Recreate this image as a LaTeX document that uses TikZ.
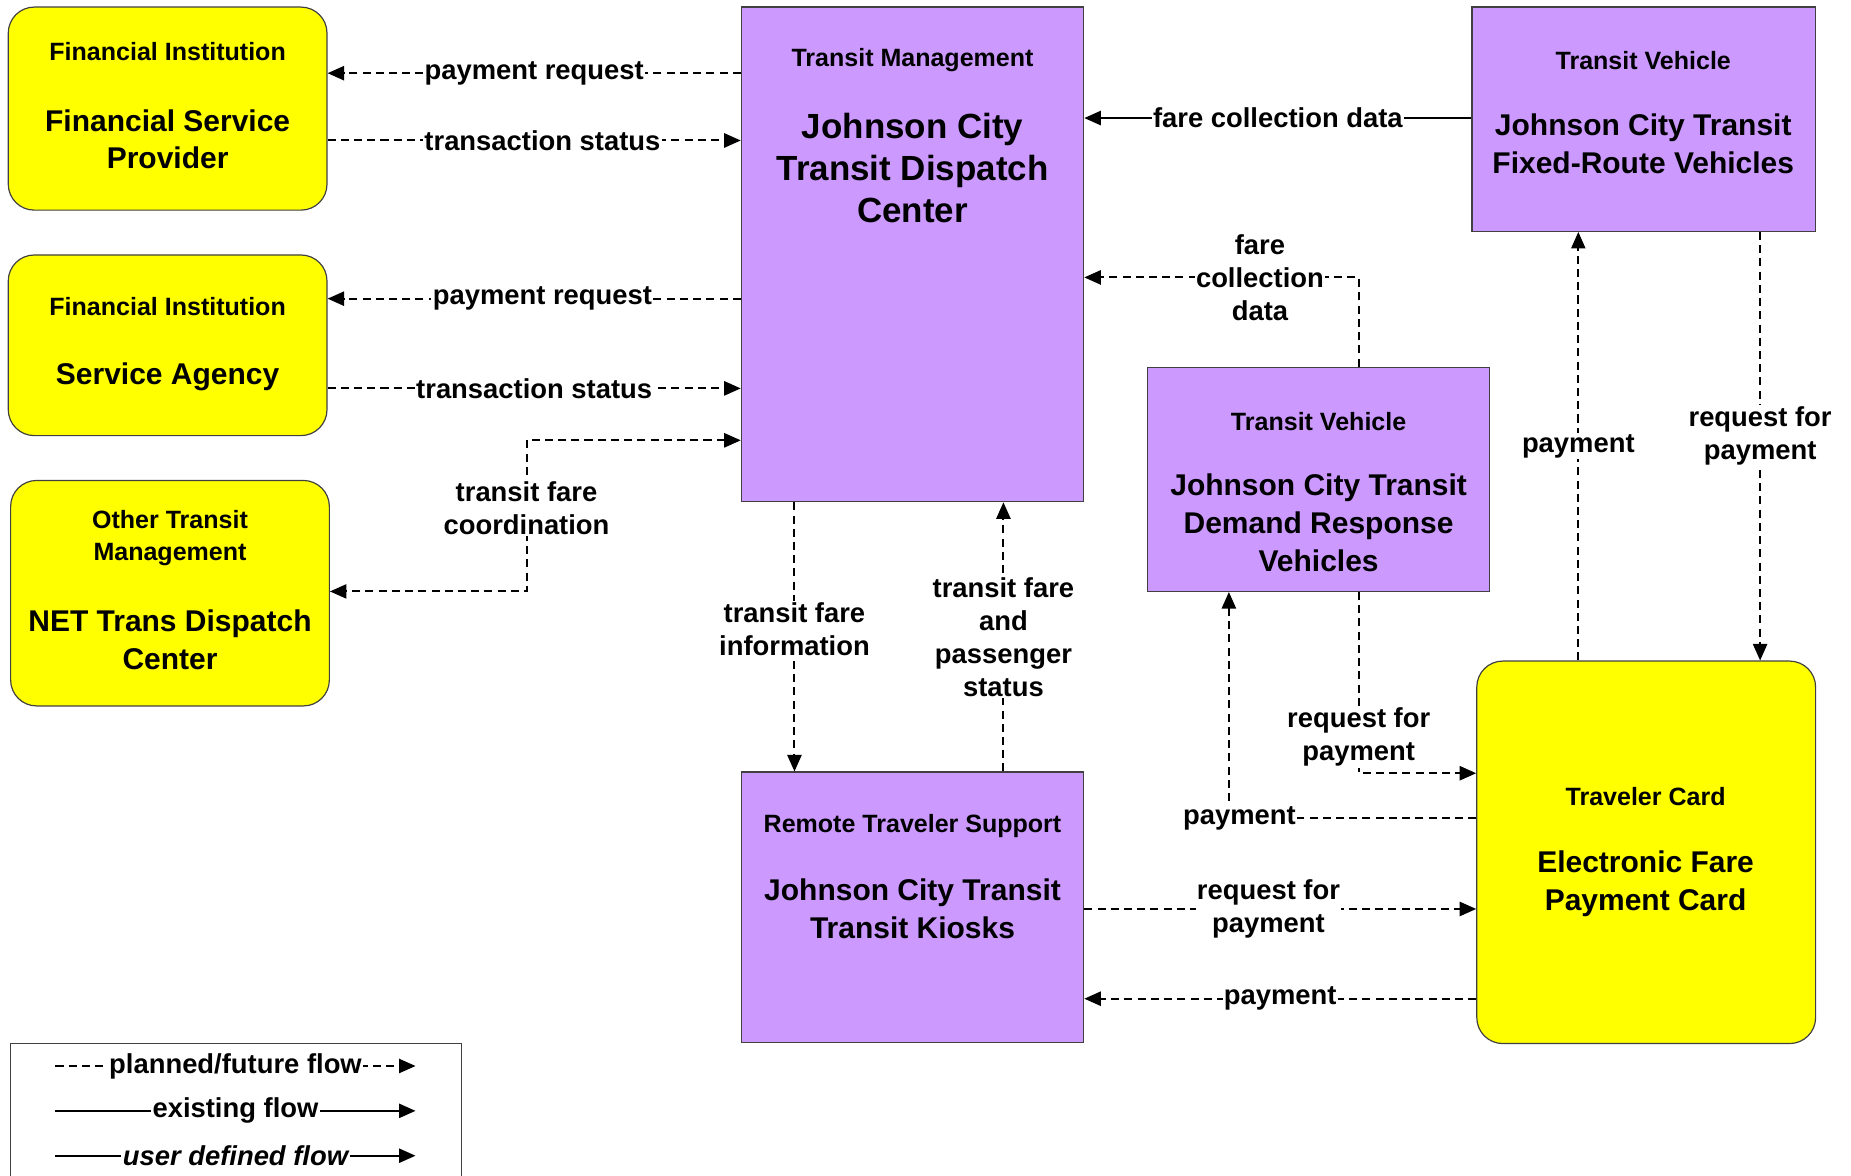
\documentclass[tikz,border=0pt]{standalone}
\usepackage{fontspec}
\setmainfont{Liberation Sans}
\usetikzlibrary{arrows.meta,positioning,calc}
\definecolor{termyellow}{HTML}{FFFF00}
\definecolor{sysviolet}{HTML}{CC99FF}
\definecolor{edgegray}{HTML}{404040}
\newcommand{\hdrfont}{\fontsize{10.6}{13.5}\selectfont\bfseries}
\newcommand{\namefont}{\fontsize{12.7}{16}\selectfont\bfseries}
\newcommand{\bignamefont}{\fontsize{14.8}{17.75}\selectfont\bfseries}
\newcommand{\flowfont}{\fontsize{11.6}{14}\selectfont\bfseries}

\tikzset{
  flowtip/.tip={Triangle[length=7pt,width=6pt]},
  termbox/.style={draw=edgegray, line width=0.5pt, fill=termyellow, rounded corners=11pt},
  sysbox/.style={draw=edgegray, line width=0.5pt, fill=sysviolet},
  hdr/.style={font=\hdrfont, align=center, inner sep=0pt},
  sysname/.style={font=\namefont, align=center, inner sep=0pt},
  flowlbl/.style={font=\flowfont, align=center, fill=white, inner sep=0.6pt},
  planned/.style={line width=0.85pt, dash pattern=on 3.4pt off 2.2pt, -flowtip},
  existing/.style={line width=0.85pt, -flowtip},
}

\begin{document}
\begin{tikzpicture}[x=0.5pt, y=-0.5pt]
\useasboundingbox (0,0) rectangle (1568,996);

% terminators
\node[termbox, minimum width=135pt, minimum height=86pt] (fsp) at (142,92) {};
\node[hdr] (fsp-cls) at (142,44) {Financial Institution};
\node[sysname] (fsp-name) at (142,118) {Financial Service\\Provider};

\node[termbox, minimum width=135pt, minimum height=76.5pt] (sa) at (142,292.5) {};
\node[hdr] (sa-cls) at (142,260) {Financial Institution};
\node[sysname] (sa-name) at (142,319) {Service Agency};

\node[termbox, minimum width=135pt, minimum height=95.5pt] (net) at (144,502.5) {};
\node[hdr] (net-cls) at (144,455.5) {Other Transit\\Management};
\node[sysname] (net-name) at (144,542) {NET Trans Dispatch\\Center};

\node[termbox, minimum width=143.5pt, minimum height=162pt] (card) at (1394.5,722) {};
\node[hdr] (card-cls) at (1394,675) {Traveler Card};
\node[sysname] (card-name) at (1394,748.5) {Electronic Fare\\Payment Card};

% subsystems
\node[sysbox, minimum width=145pt, minimum height=209.5pt] (dc) at (773,215.5) {};
\node[hdr] (dc-cls) at (773,51) {Transit Management};
\node[sysname, font=\bignamefont] (dc-name) at (773,142.5) {Johnson City\\Transit Dispatch\\Center};

\node[sysbox, minimum width=145.5pt, minimum height=95pt] (frv) at (1392.5,101) {};
\node[hdr] (frv-cls) at (1392,51) {Transit Vehicle};
\node[sysname] (frv-name) at (1392,121.5) {Johnson City Transit\\Fixed-Route Vehicles};

\node[sysbox, minimum width=145pt, minimum height=95pt] (drv) at (1117,406) {};
\node[hdr] (drv-cls) at (1117,357) {Transit Vehicle};
\node[sysname] (drv-name) at (1117,443) {Johnson City Transit\\Demand Response\\Vehicles};

\node[sysbox, minimum width=145pt, minimum height=114.5pt] (kiosk) at (773,768.5) {};
\node[hdr] (kiosk-cls) at (773,700) {Remote Traveler Support};
\node[sysname] (kiosk-name) at (773,770) {Johnson City Transit\\Transit Kiosks};

% flows
\draw[planned] (dc.west |- 0,62) -- node[flowlbl]{payment request} (fsp.east |- 0,62);
\draw[planned] (fsp.east |- 0,119) -- node[flowlbl, pos=0.52]{transaction status} (dc.west |- 0,119);
\draw[planned] (dc.west |- 0,253) -- node[flowlbl, pos=0.48]{payment request} (sa.east |- 0,253);
\draw[planned] (sa.east |- 0,329) -- node[flowlbl]{transaction status} (dc.west |- 0,329);
\draw[planned, flowtip-flowtip] (dc.west |- 0,373) -- (446,373)
  -- node[flowlbl, pos=0.45]{transit fare\\coordination} (446,501) -- (net.east |- 0,501);

\draw[existing] (frv.west |- 0,100) -- node[flowlbl]{fare collection data} (dc.east |- 0,100);
\draw[planned] (drv.north -| 1151,0) |- node[flowlbl, pos=0.68]{fare\\collection\\data} (dc.east |- 0,235);

\draw[planned] (dc.south -| 673,0) -- node[flowlbl, pos=0.47]{transit fare\\information} (kiosk.north -| 673,0);
\draw[planned] (kiosk.north -| 850,0) -- node[flowlbl]{transit fare\\and\\passenger\\status} (dc.south -| 850,0);

\draw[planned] (card.north -| 1337,0) -- node[flowlbl]{payment} (frv.south -| 1337,0);
\draw[planned] (frv.south -| 1491,0) -- node[flowlbl, pos=0.475]{request for\\payment} (card.north -| 1491,0);
\draw[planned] (drv.south -| 1151,0) |- node[flowlbl, pos=0.4]{request for\\payment} (card.west |- 0,655);
\draw[planned] (card.west |- 0,693) -| node[flowlbl, pos=0.5, xshift=4.5pt]{payment} (drv.south -| 1041,0);
\draw[planned] (kiosk.east |- 0,770) -- node[flowlbl, pos=0.47]{request for\\payment} (card.west |- 0,770);
\draw[planned] (card.west |- 0,846) -- node[flowlbl]{payment} (kiosk.east |- 0,846);

% legend
\node[draw=edgegray, line width=0.5pt, minimum width=191pt, minimum height=63pt] (legend) at (200,947) {};
\draw[planned] (47,903) -- node[flowlbl]{planned/future flow} (352,903);
\draw[existing] (47,941) -- node[flowlbl]{existing flow} (352,941);
\draw[existing] (47,979) -- node[flowlbl, font=\flowfont\itshape]{user defined flow} (352,979);
\end{tikzpicture}
\end{document}
